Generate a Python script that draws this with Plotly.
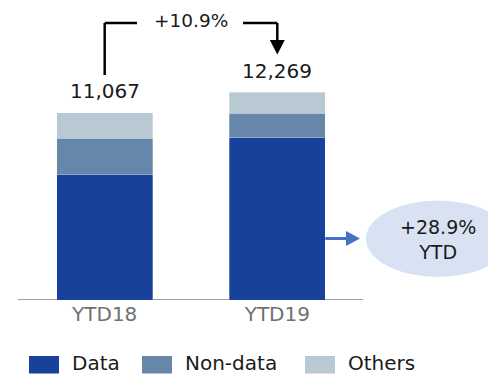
import plotly.graph_objects as go

# ---- data ----
categories = ["YTD18", "YTD19"]
series_names = ["Data", "Non-data", "Others"]
data_vals = [7440, 9590]
nondata_vals = [2130, 1440]
others_vals = [1497, 1239]

series_vals = [data_vals, nondata_vals, others_vals]
colors = ["#17419A", "#6686AA", "#B9C9D3"]

totals = [sum(v) for v in zip(*series_vals)]
total_growth = totals[1] / totals[0] - 1
data_growth = data_vals[1] / data_vals[0] - 1

# ---- geometry of the canvas ----
W, H = 488, 374
M_B = 74
PLOT_H = H - M_B
Y_MAX = 17736
X_RANGE = [-0.6066, 2.2207]
BAR_W = 0.556
x_pos = list(range(len(categories)))

FONT = "DejaVu Sans"
TXT = "#1a1a1a"


def px_x(px):
    """Horizontal canvas pixel -> x data value."""
    return X_RANGE[0] + px / W * (X_RANGE[1] - X_RANGE[0])


def px_y(py):
    """Vertical canvas pixel -> y data value."""
    return (PLOT_H - py) / PLOT_H * Y_MAX


def dx(px):
    return px / W * (X_RANGE[1] - X_RANGE[0])


def paper_y(py):
    return (PLOT_H - py) / PLOT_H


fig = go.Figure()
for name, vals, col in zip(series_names, series_vals, colors):
    fig.add_trace(go.Bar(
        x=x_pos, y=vals, name=name, width=BAR_W,
        marker=dict(color=col, line=dict(color="rgba(255,255,255,0.5)", width=0.6)),
        showlegend=False, hoverinfo="skip",
    ))

shapes = []
annotations = []

# baseline
shapes.append(dict(type="line", xref="x", yref="y", x0=px_x(18), x1=px_x(363), y0=0, y1=0,
                   line=dict(color="#A0A0A0", width=2), layer="below"))

# totals above bars
for xp, t, shift in zip(x_pos, totals, [22, 21]):
    annotations.append(dict(x=xp, y=t, yshift=shift, text=f"{t:,}", showarrow=False,
                            yanchor="middle", font=dict(family=FONT, size=20, color=TXT)))

# growth bracket between totals
k = dict(color="#000000", width=2.5)
y_top = px_y(23)
shapes += [
    dict(type="line", x0=x_pos[0], x1=x_pos[0], y0=px_y(75), y1=y_top, line=k),
    dict(type="line", x0=x_pos[0], x1=px_x(137), y0=y_top, y1=y_top, line=k),
    dict(type="line", x0=px_x(243), x1=x_pos[1], y0=y_top, y1=y_top, line=k),
    dict(type="line", x0=x_pos[1], x1=x_pos[1], y0=y_top, y1=px_y(41), line=k),
    dict(type="path", fillcolor="#000000", line=dict(width=0),
         path=f"M {x_pos[1]-dx(7.5)},{px_y(40)} L {x_pos[1]+dx(7.5)},{px_y(40)} "
              f"L {x_pos[1]},{px_y(54.5)} Z"),
]
annotations.append(dict(x=px_x(191), y=px_y(20.5), text=f"+{total_growth*100:.1f}%", showarrow=False,
                        font=dict(family=FONT, size=18.5, color=TXT)))

# data growth callout
blue = "#4472C4"
ya = px_y(238.5)
shapes += [
    dict(type="line", x0=x_pos[1] + BAR_W / 2, x1=px_x(348), y0=ya, y1=ya,
         line=dict(color=blue, width=3)),
    dict(type="path", fillcolor=blue, line=dict(width=0),
         path=f"M {px_x(346)},{px_y(231)} L {px_x(360)},{ya} L {px_x(346)},{px_y(246)} Z"),
    dict(type="circle", x0=px_x(366), x1=px_x(510), y0=px_y(277), y1=px_y(200.5),
         fillcolor="#D9E2F3", line=dict(width=0), layer="below"),
]
annotations.append(dict(x=px_x(438), y=px_y(239.5), text=f"+{data_growth*100:.1f}%<br>YTD",
                        showarrow=False, font=dict(family=FONT, size=19, color=TXT)))

# legend
leg_sq = [29, 142, 305]
for name, col, sx in zip(series_names, colors, leg_sq):
    shapes.append(dict(type="rect", xref="paper", yref="paper",
                       x0=sx / W, x1=(sx + 30) / W, y0=paper_y(373.5), y1=paper_y(356),
                       fillcolor=col, line=dict(width=0)))
    annotations.append(dict(xref="paper", yref="paper", x=(sx + 41) / W, y=paper_y(362.5),
                            xanchor="left", yanchor="middle", height=20, valign="middle",
                            text=name, showarrow=False,
                            font=dict(family=FONT, size=20, color=TXT)))

fig.update_layout(
    width=W, height=H,
    margin=dict(l=0, r=0, t=0, b=M_B, pad=0),
    barmode="stack",
    plot_bgcolor="white", paper_bgcolor="white",
    showlegend=False,
    shapes=shapes, annotations=annotations,
    xaxis=dict(range=X_RANGE, tickvals=x_pos, ticktext=categories, showgrid=False,
               zeroline=False, showline=False, ticks="",
               tickfont=dict(family=FONT, size=20, color="#707070"), fixedrange=True),
    yaxis=dict(range=[0, Y_MAX], visible=False, fixedrange=True),
)

fig.write_html("out.html")
